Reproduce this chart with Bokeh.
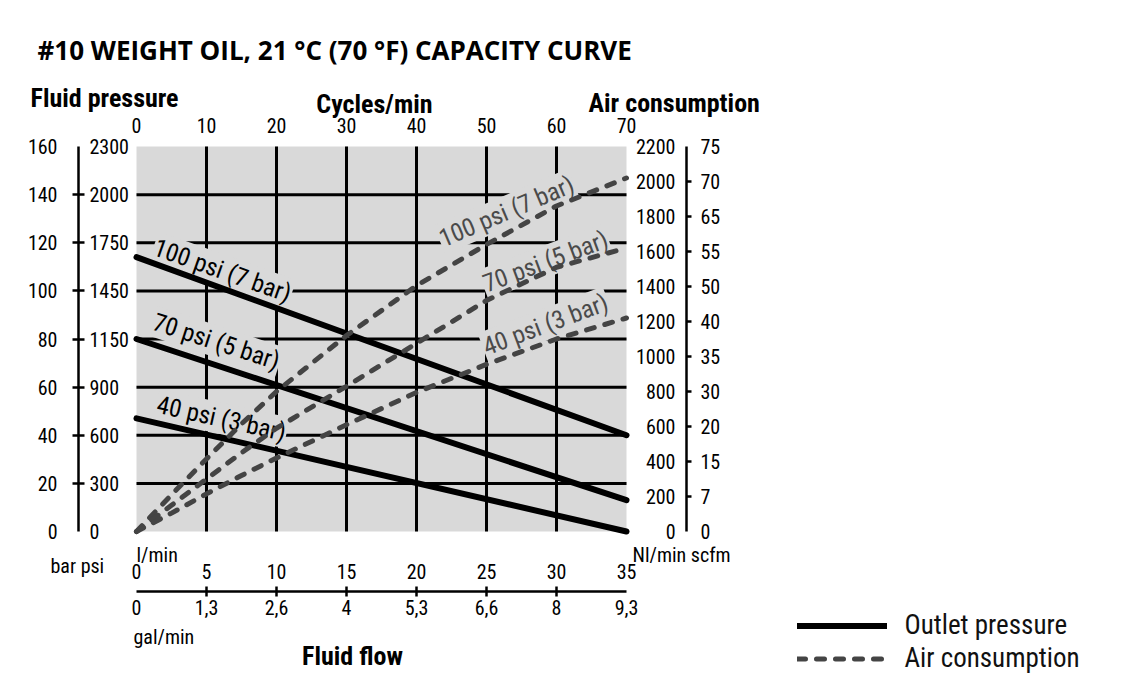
from bokeh.plotting import figure
from bokeh.models import (Range1d, LinearAxis, FixedTicker, Label,
                          Legend, LegendItem)
from bokeh.core.properties import value
from bokeh.embed import file_html
from bokeh.resources import INLINE

# ---------------------------------------------------------------- data
# fluid flow in l/min (shared x for every curve)
OUTLET_FLOW = [0, 35]
OUTLET_100 = [114, 40]   # bar, 100 psi (7 bar) air inlet
OUTLET_70 = [80, 13]     # bar, 70 psi (5 bar) air inlet
OUTLET_40 = [47, 0]      # bar, 40 psi (3 bar) air inlet

AIR_FLOW = [0, 2.5, 5, 7.5, 10, 15, 20, 25, 30, 35]
AIR_100 = [0, 210, 415, 615, 800, 1120, 1405, 1640, 1860, 2020]   # Nl/min
AIR_70 = [0, 150, 300, 450, 590, 830, 1075, 1320, 1510, 1620]
AIR_40 = [0, 105, 215, 320, 420, 610, 795, 955, 1100, 1220]

CURVE_NAMES = ["100 psi (7 bar)", "70 psi (5 bar)", "40 psi (3 bar)"]

# axis ticks and labels
BAR_TICKS = [0, 20, 40, 60, 80, 100, 120, 140, 160]
PSI_LABELS = ["0", "300", "600", "900", "1150", "1450", "1750", "2000", "2300"]
NL_TICKS = [0, 200, 400, 600, 800, 1000, 1200, 1400, 1600, 1800, 2000, 2200]
SCFM_LABELS = ["0", "7", "15", "20", "30", "35", "40", "50", "55", "65", "70", "75"]
LPM_TICKS = [0, 5, 10, 15, 20, 25, 30, 35]
GPM_LABELS = ["0", "1,3", "2,6", "4", "5,3", "6,6", "8", "9,3"]
CYCLE_TICKS = [0, 10, 20, 30, 40, 50, 60, 70]

# ---------------------------------------------------------------- layout
W, H = 1123, 686
FL, FR, FT, FB = 136, 626, 146, 531      # grey chart area on the canvas
X_MAX, Y_MAX, NL_MAX, CYC_MAX = 35, 160, 2200, 70

FONT = "Roboto Condensed, Liberation Sans Narrow, DejaVu Sans Condensed, sans-serif"
TITLE_FONT = "Open Sans"
PLOT_BG = "#d9d9d9"
DASH_COLOR = "#444444"


def dx(px):
    """canvas x -> l/min"""
    return (px - FL) / (FR - FL) * X_MAX


def dy(py):
    """canvas y -> bar"""
    return (FB - py) / (FB - FT) * Y_MAX


# the frame spans the whole canvas so that the outer scales and captions
# can be placed freely in data units
p = figure(width=W, height=H,
           x_range=Range1d(dx(0), dx(W)), y_range=Range1d(dy(H), dy(0)),
           x_axis_type=None, y_axis_type=None, toolbar_location=None,
           output_backend="svg", min_border=0,
           background_fill_color="white", border_fill_color="white",
           outline_line_color=None)
p.extra_x_ranges = {"cycles": Range1d(dx(0) * CYC_MAX / X_MAX, dx(W) * CYC_MAX / X_MAX)}
p.extra_y_ranges = {"air": Range1d(dy(H) * NL_MAX / Y_MAX, dy(0) * NL_MAX / Y_MAX)}

# grey chart area and its grid
p.quad(left=[0], right=[X_MAX], bottom=[0], top=[Y_MAX],
       fill_color=PLOT_BG, line_color=None)
gx = LPM_TICKS[1:-1]
gy = BAR_TICKS[1:-1]
p.segment(x0=gx, y0=[0] * len(gx), x1=gx, y1=[Y_MAX] * len(gx),
          line_color="black", line_width=3)
p.segment(x0=[0] * len(gy), y0=gy, x1=[X_MAX] * len(gy), y1=gy,
          line_color="black", line_width=3)


def tick_font(ax, size="20px"):
    ax.major_label_text_font = FONT
    ax.major_label_text_font_size = size
    ax.major_label_text_color = "black"
    ax.major_tick_in = 0
    ax.major_tick_out = 0
    ax.major_tick_line_color = None


# left: bar scale with its rule, psi labels on the inner side
bar_ax = LinearAxis(fixed_location=dx(78), bounds=(0, Y_MAX),
                    ticker=FixedTicker(ticks=BAR_TICKS, minor_ticks=BAR_TICKS[1:-1]))
tick_font(bar_ax)
bar_ax.axis_line_width = 2.5
bar_ax.minor_tick_in = 6
bar_ax.minor_tick_out = 6
bar_ax.minor_tick_line_width = 2.5
bar_ax.major_label_standoff = 15
p.add_layout(bar_ax, "left")

psi_ax = LinearAxis(fixed_location=dx(78), bounds=(0, Y_MAX),
                    ticker=FixedTicker(ticks=BAR_TICKS),
                    major_label_overrides=dict(zip(BAR_TICKS, PSI_LABELS)))
tick_font(psi_ax)
psi_ax.axis_line_color = None
psi_ax.minor_tick_line_color = None
psi_ax.major_label_standoff = 11
p.add_layout(psi_ax, "right")

# right: Nl/min scale with its rule, scfm labels outside
nl_ax = LinearAxis(y_range_name="air", fixed_location=dx(686), bounds=(0, NL_MAX),
                   ticker=FixedTicker(ticks=NL_TICKS, minor_ticks=NL_TICKS[1:-1]))
tick_font(nl_ax)
nl_ax.axis_line_width = 2.5
nl_ax.minor_tick_in = 5
nl_ax.minor_tick_out = 0
nl_ax.minor_tick_line_width = 2.5
nl_ax.major_label_standoff = 11
p.add_layout(nl_ax, "left")

scfm_ax = LinearAxis(y_range_name="air", fixed_location=dx(686), bounds=(0, NL_MAX),
                     ticker=FixedTicker(ticks=NL_TICKS),
                     major_label_overrides=dict(zip(NL_TICKS, SCFM_LABELS)))
tick_font(scfm_ax)
scfm_ax.axis_line_color = None
scfm_ax.minor_tick_line_color = None
scfm_ax.major_label_standoff = 14
p.add_layout(scfm_ax, "right")

# top: pump cycles
cyc_ax = LinearAxis(x_range_name="cycles", fixed_location=Y_MAX, bounds=(0, CYC_MAX),
                    ticker=FixedTicker(ticks=CYCLE_TICKS))
tick_font(cyc_ax)
cyc_ax.axis_line_color = None
cyc_ax.minor_tick_line_color = None
cyc_ax.major_label_standoff = 14
p.add_layout(cyc_ax, "above")

# bottom: l/min above the rule, gal/min below it
lpm_ax = LinearAxis(fixed_location=dy(591), bounds=(0, X_MAX),
                    ticker=FixedTicker(ticks=LPM_TICKS))
tick_font(lpm_ax)
lpm_ax.axis_line_color = None
lpm_ax.minor_tick_line_color = None
lpm_ax.major_label_standoff = 13
p.add_layout(lpm_ax, "above")

gpm_ax = LinearAxis(fixed_location=dy(591), bounds=(0, X_MAX),
                    ticker=FixedTicker(ticks=LPM_TICKS, minor_ticks=LPM_TICKS[1:-1]),
                    major_label_overrides=dict(zip(LPM_TICKS, GPM_LABELS)))
tick_font(gpm_ax)
gpm_ax.axis_line_width = 2.5
gpm_ax.minor_tick_in = 5
gpm_ax.minor_tick_out = 5
gpm_ax.minor_tick_line_width = 2.5
gpm_ax.major_label_standoff = 3
p.add_layout(gpm_ax, "below")


# curve labels: text on the grey area that hides the grid beneath it,
# drawn before the curves so the curves stay on top
CURVE_LABEL_POS = [
    # (x px, y px, angle deg)
    (222, 270, -19.5),
    (216, 341, -18.0),
    (221, 418, -12.5),
]
AIR_LABEL_POS = [
    (506, 211, 23.0),
    (545, 261, 20.5),
    (545, 324, 20.5),
]
for pos, colour in ((CURVE_LABEL_POS, "black"), (AIR_LABEL_POS, "#4a4a4a")):
    p.text(x=[dx(x) for x, _, _ in pos], y=[dy(y) for _, y, _ in pos],
           text=CURVE_NAMES, angle=[a for _, _, a in pos], angle_units="deg",
           text_font=value(FONT), text_font_size="25px", text_color=colour,
           text_align="center", text_baseline="middle",
           background_fill_color=PLOT_BG, padding=1)

# outlet pressure (solid) and air consumption (dashed)
solid = dict(line_color="black", line_width=6, line_cap="round")
r_out = [p.line(OUTLET_FLOW, ys, **solid) for ys in (OUTLET_100, OUTLET_70, OUTLET_40)]

dashed = dict(line_color=DASH_COLOR, line_width=5, line_dash="8 11",
              line_cap="round", y_range_name="air")
r_air = [p.line(AIR_FLOW, ys, **dashed) for ys in (AIR_100, AIR_70, AIR_40)]


def text(t, px, py, size, bold=False, align="left", font=FONT):
    p.add_layout(Label(x=dx(px), y=dy(py), text=t, text_font=font,
                       text_font_size=f"{size}px",
                       text_font_style="bold" if bold else "normal",
                       text_align=align, text_baseline="middle",
                       text_color="black"))


# titles and unit captions
text("#10 WEIGHT OIL, 21 °C (70 °F) CAPACITY CURVE", 37, 49, 26, bold=True,
     font=TITLE_FONT)
text("Fluid pressure", 30, 97, 26, bold=True)
text("Cycles/min", 374, 103, 26, bold=True, align="center")
text("Air consumption", 588, 102, 26, bold=True)
text("bar psi", 50, 565, 20)
text("l/min", 136, 554, 20)
text("Nl/min scfm", 632, 554, 20)
text("gal/min", 133, 636, 20)
text("Fluid flow", 352, 655, 26, bold=True, align="center")

legend = Legend(items=[LegendItem(label=value("Outlet pressure"), renderers=[r_out[0]]),
                       LegendItem(label=value("Air consumption"), renderers=[r_air[0]])],
                location=(796.5, 11.5), orientation="vertical",
                glyph_width=90, glyph_height=33, label_height=33, spacing=0,
                padding=0, margin=0, label_standoff=18,
                label_text_font=FONT, label_text_font_size="27px",
                label_text_baseline="middle", label_text_color="#111111",
                border_line_color=None, background_fill_alpha=0)
p.add_layout(legend)

open("out.html", "w").write(file_html(p, INLINE))
